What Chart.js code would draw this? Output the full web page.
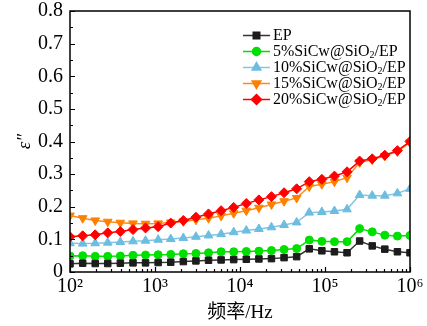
<!DOCTYPE html>
<html>
<head>
<meta charset="utf-8">
<script src="https://cdn.jsdelivr.net/npm/chart.js@4.4.1/dist/chart.umd.min.js"></script>
<style>
  html, body { margin: 0; padding: 0; background: #fff; }
  canvas { display: block; }
</style>
</head>
<body>
<canvas id="chart1" width="427" height="326"></canvas>
<script>
// frequency sweep (Hz)
var freq = [100, 141, 198, 278, 391, 551, 774, 1089, 1532, 2154, 3030, 4262, 5995, 8432,
  11860, 16681, 23462, 33000, 46416, 65283, 91826, 129155, 181659, 255509, 359381, 505481, 710976, 1000000];

// dielectric loss ε'' for each sample
var ep = [0.025, 0.027, 0.026, 0.026, 0.027, 0.028, 0.028, 0.029, 0.030, 0.032, 0.034, 0.036, 0.037, 0.038,
  0.039, 0.040, 0.041, 0.044, 0.047, 0.071, 0.065, 0.062, 0.059, 0.095, 0.080, 0.070, 0.062, 0.059];
var sic5 = [0.049, 0.050, 0.048, 0.048, 0.049, 0.051, 0.052, 0.053, 0.054, 0.056, 0.057, 0.059, 0.062, 0.062,
  0.063, 0.064, 0.066, 0.069, 0.072, 0.098, 0.094, 0.093, 0.093, 0.133, 0.123, 0.113, 0.110, 0.112];
var sic10 = [0.088, 0.087, 0.088, 0.090, 0.092, 0.094, 0.096, 0.099, 0.101, 0.104, 0.108, 0.112, 0.116, 0.122,
  0.127, 0.132, 0.137, 0.144, 0.152, 0.182, 0.184, 0.187, 0.192, 0.236, 0.234, 0.234, 0.241, 0.255];
var sic15 = [0.173, 0.165, 0.158, 0.154, 0.151, 0.149, 0.148, 0.149, 0.152, 0.155, 0.160, 0.165, 0.172, 0.180,
  0.188, 0.197, 0.207, 0.217, 0.227, 0.262, 0.269, 0.277, 0.289, 0.336, 0.344, 0.356, 0.369, 0.397];
var sic20 = [0.108, 0.111, 0.114, 0.120, 0.124, 0.130, 0.135, 0.139, 0.150, 0.158, 0.168, 0.178, 0.188, 0.198,
  0.210, 0.221, 0.231, 0.243, 0.255, 0.277, 0.284, 0.294, 0.307, 0.340, 0.347, 0.358, 0.372, 0.400];

var labels = ['EP', '5%SiCw@SiO₂/EP', '10%SiCw@SiO₂/EP', '15%SiCw@SiO₂/EP', '20%SiCw@SiO₂/EP'];
var yTicks = [0, 0.1, 0.2, 0.3, 0.4, 0.5, 0.6, 0.7, 0.8];
var xDecades = [2, 3, 4, 5, 6];

var serif = "'Liberation Serif', 'Times New Roman', serif";
var sup = { 2: '²', 3: '³', 4: '⁴', 5: '⁵', 6: '⁶' };

function pts(arr) {
  return arr.map(function (v, i) { return { x: freq[i], y: v }; });
}

function mkSet(label, arr, color, lineColor, style, rot, radius, order) {
  return {
    label: label,
    data: pts(arr),
    borderColor: lineColor,
    backgroundColor: color,
    pointBackgroundColor: color,
    pointBorderColor: color,
    pointStyle: style,
    pointRotation: rot,
    pointRadius: radius,
    pointBorderWidth: 1,
    borderWidth: 1.5,
    tension: 0,
    order: order
  };
}

var sets = [
  mkSet(labels[0], ep, '#1c1c1c', '#333333', 'rect', 0, 4.6, 1),
  mkSet(labels[1], sic5, '#00e000', '#00dd00', 'circle', 0, 4, 1),
  mkSet(labels[2], sic10, '#6cbde0', '#7fc6e6', 'triangle', 0, 5, 1),
  mkSet(labels[3], sic15, '#ff8000', '#ff8a1a', 'triangle', 180, 5, 1),
  mkSet(labels[4], sic20, '#ff0000', '#ff0000', 'rectRot', 0, 5, 0)
];

// frame + inward ticks
var frameTicks = {
  id: 'frameTicks',
  afterDatasetsDraw: function (chart) {
    var ctx = chart.ctx, a = chart.chartArea;
    var xs = chart.scales.x, ys = chart.scales.y;
    ctx.save();
    ctx.strokeStyle = '#000';
    ctx.lineWidth = 1.5;
    ctx.strokeRect(a.left, a.top, a.right - a.left, a.bottom - a.top);
    ctx.lineWidth = 1.2;
    ctx.beginPath();
    // y ticks every 0.05, major each 0.1
    for (var k = 0; k <= 16; k++) {
      var py = Math.round(ys.getPixelForValue(k * 0.05)) + 0.5;
      var len = (k % 2 === 0) ? 5 : 3;
      ctx.moveTo(a.left, py);
      ctx.lineTo(a.left + len, py);
    }
    // x log ticks
    for (var d = 2; d <= 6; d++) {
      for (var m = 1; m <= 9; m++) {
        var v = m * Math.pow(10, d);
        if (v > 1e6) break;
        var px = Math.round(xs.getPixelForValue(v)) + 0.5;
        var l2 = (m === 1) ? 5 : 3;
        ctx.moveTo(px, a.bottom);
        ctx.lineTo(px, a.bottom - l2);
      }
    }
    ctx.stroke();
    ctx.restore();
  }
};

// legend drawn inside the plot, top right
var innerLegend = {
  id: 'innerLegend',
  afterDraw: function (chart) {
    var ctx = chart.ctx;
    ctx.save();
    chart.data.datasets.forEach(function (ds, i) {
      var y = 35.5 + 16 * i;
      ctx.strokeStyle = ds.borderColor;
      ctx.lineWidth = 1.5;
      ctx.beginPath();
      ctx.moveTo(243, y);
      ctx.lineTo(270, y);
      ctx.stroke();
      ctx.fillStyle = ds.pointBackgroundColor;
      ctx.strokeStyle = ds.pointBorderColor;
      Chart.helpers.drawPoint(ctx, {
        pointStyle: ds.pointStyle, rotation: ds.pointRotation, radius: ds.pointRadius, borderWidth: 1
      }, 256.5, y);
      // label with subscript 2
      ctx.fillStyle = '#000';
      ctx.textBaseline = 'middle';
      var parts = ds.label.split('₂');
      var x = 273;
      ctx.font = '16px ' + serif;
      ctx.fillText(parts[0], x, y);
      x += ctx.measureText(parts[0]).width;
      if (parts.length > 1) {
        ctx.font = '10px ' + serif;
        ctx.fillText('2', x, y + 4);
        x += ctx.measureText('2').width;
        ctx.font = '16px ' + serif;
        ctx.fillText(parts[1], x, y);
      }
    });
    ctx.restore();
  }
};

var ctx1 = document.getElementById('chart1');
new Chart(ctx1, {
  type: 'line',
  data: { datasets: sets },
  plugins: [frameTicks, innerLegend],
  options: {
    responsive: false,
    animation: false,
    layout: { padding: { top: 11, right: 17, left: 0, bottom: 0 } },
    plugins: { legend: { display: false }, tooltip: { enabled: false } },
    scales: {
      x: {
        type: 'logarithmic',
        min: 100,
        max: 1e6,
        afterBuildTicks: function (s) {
          s.ticks = xDecades.map(function (p) { return { value: Math.pow(10, p) }; });
        },
        afterFit: function (s) { s.height = 54; s.paddingLeft = 0; s.paddingRight = 0; },
        grid: { display: false, drawTicks: false },
        border: { display: false },
        ticks: {
          autoSkip: false,
          maxRotation: 0,
          padding: 3,
          color: '#000',
          font: { family: serif, size: 20 },
          callback: function (v) { return '10' + sup[Math.round(Math.log10(v))]; }
        },
        title: {
          display: true,
          text: '频率/Hz',
          color: '#000',
          font: { family: "'Liberation Serif', 'Noto Sans CJK SC', serif", size: 19 },
          padding: { top: 0, bottom: 2 }
        }
      },
      y: {
        min: 0,
        max: 0.8,
        afterBuildTicks: function (s) {
          s.ticks = yTicks.map(function (v) { return { value: v }; });
        },
        afterFit: function (s) { s.width = 70; s.paddingTop = 0; s.paddingBottom = 0; },
        grid: { display: false, drawTicks: false },
        border: { display: false },
        ticks: {
          padding: 7,
          color: '#000',
          font: { family: serif, size: 20 },
          callback: function (v) { return v === 0 ? '0' : v.toFixed(1); }
        },
        title: {
          display: true,
          text: 'ε″',
          color: '#000',
          font: { family: serif, size: 19, style: 'italic' },
          padding: { top: 14, bottom: 0 }
        }
      }
    }
  }
});
</script>
</body>
</html>
